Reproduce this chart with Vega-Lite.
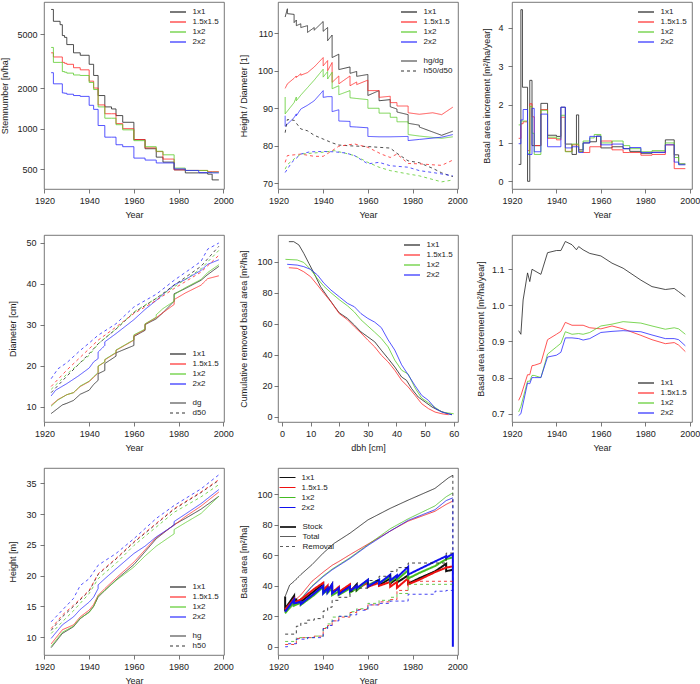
{
"$schema":"https://vega.github.io/schema/vega-lite/v6.json",
"padding":{"left":0,"top":1,"right":0,"bottom":0},
"background":"white",
"config":{
 "font":"Liberation Sans",
 "view":{"stroke":"#555","strokeWidth":0.8},
 "axis":{"grid":false,"domain":false,"tickSize":4,"tickColor":"#555","tickWidth":0.8,"labelFontSize":9,"titleFontSize":9,"titleFontWeight":"normal","labelColor":"#222","titleColor":"#222","labelOverlap":false,"labelFlush":false},
 "axisX":{"labelPadding":3,"titlePadding":5},
 "legend":{"labelFontSize":8,"labelColor":"#222","symbolType":"M-2,0H2","symbolSize":64,"symbolStrokeWidth":1.2,"rowPadding":1,"padding":2,"offset":3,"labelOffset":9.5,
   "layout":{"top-right":{"direction":"vertical","anchor":"start","margin":6},"bottom-right":{"direction":"vertical","anchor":"start","margin":6},"top-left":{"direction":"vertical","anchor":"start","margin":6}}}
},
"columns":3,
"spacing":{"row":46,"column":54},
"bounds":"flush",
"resolve":{"scale":{"color":"independent","strokeDash":"independent","strokeWidth":"independent","x":"independent","y":"independent"},"legend":{"color":"independent","strokeDash":"independent","strokeWidth":"independent"}},
"datasets":{
"p1":[
{"s":"1x1","x":1923,"y":7650},{"s":"1x1","x":1924,"y":6250},{"s":"1x1","x":1927,"y":5900},{"s":"1x1","x":1928,"y":4900},{"s":"1x1","x":1929,"y":4750},{"s":"1x1","x":1930,"y":4200},{"s":"1x1","x":1933,"y":3650},{"s":"1x1","x":1936,"y":3500},{"s":"1x1","x":1940,"y":3000},{"s":"1x1","x":1942,"y":2480},{"s":"1x1","x":1944,"y":1760},{"s":"1x1","x":1947,"y":1450},{"s":"1x1","x":1950,"y":1400},{"s":"1x1","x":1952,"y":1250},{"s":"1x1","x":1955,"y":1115},{"s":"1x1","x":1960,"y":830},{"s":"1x1","x":1965,"y":710},{"s":"1x1","x":1970,"y":615},{"s":"1x1","x":1973,"y":565},{"s":"1x1","x":1978,"y":495},{"s":"1x1","x":1983,"y":470},{"s":"1x1","x":1989,"y":470},{"s":"1x1","x":1993,"y":460},{"s":"1x1","x":1995,"y":417},{"s":"1x1","x":1998,"y":417},
{"s":"1.5x1.5","x":1923,"y":3650},{"s":"1.5x1.5","x":1924,"y":3400},{"s":"1.5x1.5","x":1927,"y":3400},{"s":"1.5x1.5","x":1928,"y":3100},{"s":"1.5x1.5","x":1929,"y":3050},{"s":"1.5x1.5","x":1930,"y":3000},{"s":"1.5x1.5","x":1933,"y":2830},{"s":"1.5x1.5","x":1936,"y":2730},{"s":"1.5x1.5","x":1940,"y":2250},{"s":"1.5x1.5","x":1942,"y":2000},{"s":"1.5x1.5","x":1944,"y":1500},{"s":"1.5x1.5","x":1947,"y":1290},{"s":"1.5x1.5","x":1950,"y":1290},{"s":"1.5x1.5","x":1952,"y":1090},{"s":"1.5x1.5","x":1955,"y":1000},{"s":"1.5x1.5","x":1960,"y":830},{"s":"1.5x1.5","x":1965,"y":720},{"s":"1.5x1.5","x":1970,"y":676},{"s":"1.5x1.5","x":1973,"y":595},{"s":"1.5x1.5","x":1978,"y":495},{"s":"1.5x1.5","x":1983,"y":490},{"s":"1.5x1.5","x":1989,"y":490},{"s":"1.5x1.5","x":1993,"y":480},{"s":"1.5x1.5","x":1995,"y":480},{"s":"1.5x1.5","x":1998,"y":480},
{"s":"1x2","x":1923,"y":4000},{"s":"1x2","x":1924,"y":3100},{"s":"1x2","x":1927,"y":3100},{"s":"1x2","x":1928,"y":2650},{"s":"1x2","x":1929,"y":2620},{"s":"1x2","x":1930,"y":2580},{"s":"1x2","x":1933,"y":2500},{"s":"1x2","x":1936,"y":2480},{"s":"1x2","x":1940,"y":2200},{"s":"1x2","x":1942,"y":1950},{"s":"1x2","x":1944,"y":1450},{"s":"1x2","x":1947,"y":1195},{"s":"1x2","x":1950,"y":1195},{"s":"1x2","x":1952,"y":1070},{"s":"1x2","x":1955,"y":980},{"s":"1x2","x":1960,"y":815},{"s":"1x2","x":1965,"y":735},{"s":"1x2","x":1970,"y":680},{"s":"1x2","x":1973,"y":640},{"s":"1x2","x":1978,"y":510},{"s":"1x2","x":1983,"y":490},{"s":"1x2","x":1989,"y":490},{"s":"1x2","x":1993,"y":475},{"s":"1x2","x":1995,"y":475},{"s":"1x2","x":1998,"y":475},
{"s":"2x2","x":1923,"y":2600},{"s":"2x2","x":1924,"y":2150},{"s":"2x2","x":1927,"y":2150},{"s":"2x2","x":1928,"y":1840},{"s":"2x2","x":1929,"y":1830},{"s":"2x2","x":1930,"y":1800},{"s":"2x2","x":1933,"y":1760},{"s":"2x2","x":1936,"y":1735},{"s":"2x2","x":1940,"y":1490},{"s":"2x2","x":1942,"y":1390},{"s":"2x2","x":1944,"y":1055},{"s":"2x2","x":1947,"y":865},{"s":"2x2","x":1950,"y":865},{"s":"2x2","x":1952,"y":760},{"s":"2x2","x":1955,"y":735},{"s":"2x2","x":1960,"y":605},{"s":"2x2","x":1965,"y":585},{"s":"2x2","x":1970,"y":557},{"s":"2x2","x":1973,"y":557},{"s":"2x2","x":1978,"y":503},{"s":"2x2","x":1983,"y":490},{"s":"2x2","x":1989,"y":472},{"s":"2x2","x":1993,"y":472},{"s":"2x2","x":1995,"y":470},{"s":"2x2","x":1998,"y":470}
],
"p2":[
{"s":"1x1","t":"hg/dg","x":1923,"y":114.3},{"s":"1x1","t":"hg/dg","x":1924,"y":116.5},{"s":"1x1","t":"hg/dg","x":1924,"y":115.2},{"s":"1x1","t":"hg/dg","x":1927,"y":115.0},{"s":"1x1","t":"hg/dg","x":1927,"y":112.8},{"s":"1x1","t":"hg/dg","x":1928,"y":113.5},{"s":"1x1","t":"hg/dg","x":1928,"y":112.0},{"s":"1x1","t":"hg/dg","x":1930,"y":112.5},{"s":"1x1","t":"hg/dg","x":1930,"y":111.5},{"s":"1x1","t":"hg/dg","x":1933,"y":112.0},{"s":"1x1","t":"hg/dg","x":1933,"y":110.2},{"s":"1x1","t":"hg/dg","x":1936,"y":111.5},{"s":"1x1","t":"hg/dg","x":1936,"y":110.8},{"s":"1x1","t":"hg/dg","x":1940,"y":113.1},{"s":"1x1","t":"hg/dg","x":1940,"y":110.5},{"s":"1x1","t":"hg/dg","x":1942,"y":111.5},{"s":"1x1","t":"hg/dg","x":1942,"y":108.0},{"s":"1x1","t":"hg/dg","x":1944,"y":109.5},{"s":"1x1","t":"hg/dg","x":1944,"y":103.5},{"s":"1x1","t":"hg/dg","x":1947,"y":104.4},{"s":"1x1","t":"hg/dg","x":1947,"y":100.3},{"s":"1x1","t":"hg/dg","x":1952,"y":101.0},{"s":"1x1","t":"hg/dg","x":1952,"y":99.3},{"s":"1x1","t":"hg/dg","x":1955,"y":99.8},{"s":"1x1","t":"hg/dg","x":1955,"y":98.5},{"s":"1x1","t":"hg/dg","x":1960,"y":99.0},{"s":"1x1","t":"hg/dg","x":1960,"y":93.4},{"s":"1x1","t":"hg/dg","x":1965,"y":94.7},{"s":"1x1","t":"hg/dg","x":1965,"y":92.0},{"s":"1x1","t":"hg/dg","x":1970,"y":92.3},{"s":"1x1","t":"hg/dg","x":1970,"y":90.4},{"s":"1x1","t":"hg/dg","x":1973,"y":89.8},{"s":"1x1","t":"hg/dg","x":1973,"y":89.0},{"s":"1x1","t":"hg/dg","x":1978,"y":88.3},{"s":"1x1","t":"hg/dg","x":1978,"y":86.0},{"s":"1x1","t":"hg/dg","x":1983,"y":85.5},{"s":"1x1","t":"hg/dg","x":1983,"y":85.0},{"s":"1x1","t":"hg/dg","x":1993,"y":82.8},{"s":"1x1","t":"hg/dg","x":1998,"y":83.9},
{"s":"1.5x1.5","t":"hg/dg","x":1923,"y":95.3},{"s":"1.5x1.5","t":"hg/dg","x":1924,"y":96.5},{"s":"1.5x1.5","t":"hg/dg","x":1927,"y":98.0},{"s":"1.5x1.5","t":"hg/dg","x":1928,"y":98.6},{"s":"1.5x1.5","t":"hg/dg","x":1928,"y":98.2},{"s":"1.5x1.5","t":"hg/dg","x":1930,"y":99.2},{"s":"1.5x1.5","t":"hg/dg","x":1930,"y":98.8},{"s":"1.5x1.5","t":"hg/dg","x":1933,"y":99.5},{"s":"1.5x1.5","t":"hg/dg","x":1936,"y":101.0},{"s":"1.5x1.5","t":"hg/dg","x":1940,"y":103.5},{"s":"1.5x1.5","t":"hg/dg","x":1940,"y":101.3},{"s":"1.5x1.5","t":"hg/dg","x":1942,"y":102.7},{"s":"1.5x1.5","t":"hg/dg","x":1942,"y":100.0},{"s":"1.5x1.5","t":"hg/dg","x":1944,"y":102.2},{"s":"1.5x1.5","t":"hg/dg","x":1944,"y":96.9},{"s":"1.5x1.5","t":"hg/dg","x":1947,"y":98.6},{"s":"1.5x1.5","t":"hg/dg","x":1947,"y":96.5},{"s":"1.5x1.5","t":"hg/dg","x":1952,"y":98.6},{"s":"1.5x1.5","t":"hg/dg","x":1952,"y":96.0},{"s":"1.5x1.5","t":"hg/dg","x":1955,"y":97.0},{"s":"1.5x1.5","t":"hg/dg","x":1955,"y":96.3},{"s":"1.5x1.5","t":"hg/dg","x":1960,"y":97.5},{"s":"1.5x1.5","t":"hg/dg","x":1960,"y":94.7},{"s":"1.5x1.5","t":"hg/dg","x":1965,"y":94.7},{"s":"1.5x1.5","t":"hg/dg","x":1965,"y":92.9},{"s":"1.5x1.5","t":"hg/dg","x":1970,"y":93.2},{"s":"1.5x1.5","t":"hg/dg","x":1970,"y":91.5},{"s":"1.5x1.5","t":"hg/dg","x":1973,"y":91.5},{"s":"1.5x1.5","t":"hg/dg","x":1973,"y":90.6},{"s":"1.5x1.5","t":"hg/dg","x":1978,"y":90.6},{"s":"1.5x1.5","t":"hg/dg","x":1978,"y":88.8},{"s":"1.5x1.5","t":"hg/dg","x":1983,"y":88.4},{"s":"1.5x1.5","t":"hg/dg","x":1989,"y":88.8},{"s":"1.5x1.5","t":"hg/dg","x":1993,"y":88.3},{"s":"1.5x1.5","t":"hg/dg","x":1998,"y":90.3},
{"s":"1x2","t":"hg/dg","x":1923,"y":93.0},{"s":"1x2","t":"hg/dg","x":1923,"y":88.5},{"s":"1x2","t":"hg/dg","x":1927,"y":91.5},{"s":"1x2","t":"hg/dg","x":1928,"y":93.0},{"s":"1x2","t":"hg/dg","x":1928,"y":92.0},{"s":"1x2","t":"hg/dg","x":1930,"y":93.5},{"s":"1x2","t":"hg/dg","x":1933,"y":95.5},{"s":"1x2","t":"hg/dg","x":1936,"y":97.5},{"s":"1x2","t":"hg/dg","x":1940,"y":100.4},{"s":"1x2","t":"hg/dg","x":1940,"y":98.3},{"s":"1x2","t":"hg/dg","x":1942,"y":99.8},{"s":"1x2","t":"hg/dg","x":1942,"y":97.8},{"s":"1x2","t":"hg/dg","x":1944,"y":99.6},{"s":"1x2","t":"hg/dg","x":1944,"y":95.2},{"s":"1x2","t":"hg/dg","x":1947,"y":96.0},{"s":"1x2","t":"hg/dg","x":1947,"y":93.6},{"s":"1x2","t":"hg/dg","x":1952,"y":94.7},{"s":"1x2","t":"hg/dg","x":1952,"y":92.8},{"s":"1x2","t":"hg/dg","x":1955,"y":92.6},{"s":"1x2","t":"hg/dg","x":1960,"y":92.3},{"s":"1x2","t":"hg/dg","x":1960,"y":90.0},{"s":"1x2","t":"hg/dg","x":1965,"y":90.0},{"s":"1x2","t":"hg/dg","x":1965,"y":88.7},{"s":"1x2","t":"hg/dg","x":1970,"y":88.7},{"s":"1x2","t":"hg/dg","x":1970,"y":87.6},{"s":"1x2","t":"hg/dg","x":1973,"y":87.6},{"s":"1x2","t":"hg/dg","x":1973,"y":86.4},{"s":"1x2","t":"hg/dg","x":1978,"y":86.4},{"s":"1x2","t":"hg/dg","x":1978,"y":83.0},{"s":"1x2","t":"hg/dg","x":1983,"y":82.6},{"s":"1x2","t":"hg/dg","x":1993,"y":82.0},{"s":"1x2","t":"hg/dg","x":1998,"y":82.4},
{"s":"2x2","t":"hg/dg","x":1923,"y":88.0},{"s":"2x2","t":"hg/dg","x":1923,"y":85.2},{"s":"2x2","t":"hg/dg","x":1927,"y":87.5},{"s":"2x2","t":"hg/dg","x":1928,"y":88.5},{"s":"2x2","t":"hg/dg","x":1928,"y":88.0},{"s":"2x2","t":"hg/dg","x":1930,"y":89.8},{"s":"2x2","t":"hg/dg","x":1933,"y":90.8},{"s":"2x2","t":"hg/dg","x":1936,"y":92.0},{"s":"2x2","t":"hg/dg","x":1940,"y":94.7},{"s":"2x2","t":"hg/dg","x":1940,"y":92.9},{"s":"2x2","t":"hg/dg","x":1942,"y":93.1},{"s":"2x2","t":"hg/dg","x":1944,"y":93.1},{"s":"2x2","t":"hg/dg","x":1944,"y":89.1},{"s":"2x2","t":"hg/dg","x":1947,"y":89.6},{"s":"2x2","t":"hg/dg","x":1947,"y":86.6},{"s":"2x2","t":"hg/dg","x":1952,"y":86.5},{"s":"2x2","t":"hg/dg","x":1952,"y":85.1},{"s":"2x2","t":"hg/dg","x":1955,"y":85.0},{"s":"2x2","t":"hg/dg","x":1960,"y":84.8},{"s":"2x2","t":"hg/dg","x":1960,"y":82.5},{"s":"2x2","t":"hg/dg","x":1965,"y":82.4},{"s":"2x2","t":"hg/dg","x":1970,"y":82.4},{"s":"2x2","t":"hg/dg","x":1978,"y":82.5},{"s":"2x2","t":"hg/dg","x":1978,"y":81.4},{"s":"2x2","t":"hg/dg","x":1983,"y":81.7},{"s":"2x2","t":"hg/dg","x":1993,"y":82.3},{"s":"2x2","t":"hg/dg","x":1998,"y":83.0},
{"s":"1x1","t":"h50/d50","x":1923,"y":83.5},{"s":"1x1","t":"h50/d50","x":1924,"y":87.0},{"s":"1x1","t":"h50/d50","x":1927,"y":86.8},{"s":"1x1","t":"h50/d50","x":1930,"y":84.5},{"s":"1x1","t":"h50/d50","x":1933,"y":84.0},{"s":"1x1","t":"h50/d50","x":1936,"y":82.8},{"s":"1x1","t":"h50/d50","x":1940,"y":81.8},{"s":"1x1","t":"h50/d50","x":1944,"y":80.8},{"s":"1x1","t":"h50/d50","x":1947,"y":80.2},{"s":"1x1","t":"h50/d50","x":1952,"y":80.0},{"s":"1x1","t":"h50/d50","x":1960,"y":79.8},{"s":"1x1","t":"h50/d50","x":1965,"y":79.6},{"s":"1x1","t":"h50/d50","x":1970,"y":79.4},{"s":"1x1","t":"h50/d50","x":1973,"y":78.0},{"s":"1x1","t":"h50/d50","x":1978,"y":76.0},{"s":"1x1","t":"h50/d50","x":1983,"y":75.5},{"s":"1x1","t":"h50/d50","x":1989,"y":74.0},{"s":"1x1","t":"h50/d50","x":1993,"y":72.8},{"s":"1x1","t":"h50/d50","x":1998,"y":71.8},
{"s":"1.5x1.5","t":"h50/d50","x":1923,"y":75.6},{"s":"1.5x1.5","t":"h50/d50","x":1924,"y":77.4},{"s":"1.5x1.5","t":"h50/d50","x":1927,"y":77.6},{"s":"1.5x1.5","t":"h50/d50","x":1930,"y":77.8},{"s":"1.5x1.5","t":"h50/d50","x":1936,"y":77.2},{"s":"1.5x1.5","t":"h50/d50","x":1940,"y":77.2},{"s":"1.5x1.5","t":"h50/d50","x":1944,"y":78.7},{"s":"1.5x1.5","t":"h50/d50","x":1947,"y":79.9},{"s":"1.5x1.5","t":"h50/d50","x":1954,"y":80.5},{"s":"1.5x1.5","t":"h50/d50","x":1960,"y":79.6},{"s":"1.5x1.5","t":"h50/d50","x":1966,"y":77.8},{"s":"1.5x1.5","t":"h50/d50","x":1970,"y":76.9},{"s":"1.5x1.5","t":"h50/d50","x":1973,"y":77.8},{"s":"1.5x1.5","t":"h50/d50","x":1978,"y":75.3},{"s":"1.5x1.5","t":"h50/d50","x":1983,"y":75.2},{"s":"1.5x1.5","t":"h50/d50","x":1990,"y":74.9},{"s":"1.5x1.5","t":"h50/d50","x":1993,"y":74.8},{"s":"1.5x1.5","t":"h50/d50","x":1998,"y":76.2},
{"s":"1x2","t":"h50/d50","x":1923,"y":73.8},{"s":"1x2","t":"h50/d50","x":1924,"y":75.0},{"s":"1x2","t":"h50/d50","x":1927,"y":76.5},{"s":"1x2","t":"h50/d50","x":1930,"y":77.8},{"s":"1x2","t":"h50/d50","x":1936,"y":78.1},{"s":"1x2","t":"h50/d50","x":1940,"y":78.3},{"s":"1x2","t":"h50/d50","x":1945,"y":78.7},{"s":"1x2","t":"h50/d50","x":1950,"y":78.0},{"s":"1x2","t":"h50/d50","x":1954,"y":77.4},{"s":"1x2","t":"h50/d50","x":1960,"y":75.6},{"s":"1x2","t":"h50/d50","x":1965,"y":74.3},{"s":"1x2","t":"h50/d50","x":1970,"y":73.4},{"s":"1x2","t":"h50/d50","x":1978,"y":72.5},{"s":"1x2","t":"h50/d50","x":1983,"y":72.0},{"s":"1x2","t":"h50/d50","x":1993,"y":70.4},{"s":"1x2","t":"h50/d50","x":1998,"y":70.9},
{"s":"2x2","t":"h50/d50","x":1923,"y":72.9},{"s":"2x2","t":"h50/d50","x":1926,"y":75.6},{"s":"2x2","t":"h50/d50","x":1930,"y":77.8},{"s":"2x2","t":"h50/d50","x":1934,"y":78.4},{"s":"2x2","t":"h50/d50","x":1940,"y":78.5},{"s":"2x2","t":"h50/d50","x":1945,"y":78.4},{"s":"2x2","t":"h50/d50","x":1950,"y":78.1},{"s":"2x2","t":"h50/d50","x":1954,"y":77.4},{"s":"2x2","t":"h50/d50","x":1960,"y":75.2},{"s":"2x2","t":"h50/d50","x":1965,"y":75.6},{"s":"2x2","t":"h50/d50","x":1970,"y":74.7},{"s":"2x2","t":"h50/d50","x":1978,"y":74.3},{"s":"2x2","t":"h50/d50","x":1983,"y":73.4},{"s":"2x2","t":"h50/d50","x":1990,"y":72.8},{"s":"2x2","t":"h50/d50","x":1998,"y":72.0}
],
"p3":[
{"s":"1x1","x":1923,"y":0.44},{"s":"1x1","x":1924,"y":4.47},{"s":"1x1","x":1924.7,"y":2.45},{"s":"1x1","x":1927,"y":0.0},{"s":"1x1","x":1928,"y":2.63},{"s":"1x1","x":1929,"y":0.93},{"s":"1x1","x":1933,"y":2.03},{"s":"1x1","x":1936,"y":1.2},{"s":"1x1","x":1940,"y":1.17},{"s":"1x1","x":1942,"y":1.93},{"s":"1x1","x":1944,"y":0.97},{"s":"1x1","x":1947,"y":0.7},{"s":"1x1","x":1949,"y":1.73},{"s":"1x1","x":1950,"y":0.82},{"s":"1x1","x":1952,"y":1.0},{"s":"1x1","x":1955,"y":1.03},{"s":"1x1","x":1958,"y":1.18},{"s":"1x1","x":1960,"y":0.87},{"s":"1x1","x":1965,"y":0.9},{"s":"1x1","x":1970,"y":0.85},{"s":"1x1","x":1973,"y":0.78},{"s":"1x1","x":1978,"y":0.73},{"s":"1x1","x":1983,"y":0.76},{"s":"1x1","x":1989,"y":1.08},{"s":"1x1","x":1993,"y":0.69},{"s":"1x1","x":1995,"y":0.45},{"s":"1x1","x":1998,"y":0.45},
{"s":"1.5x1.5","x":1923,"y":1.12},{"s":"1.5x1.5","x":1924,"y":1.5},{"s":"1.5x1.5","x":1925,"y":1.55},{"s":"1.5x1.5","x":1927,"y":0.8},{"s":"1.5x1.5","x":1928,"y":2.02},{"s":"1.5x1.5","x":1929,"y":1.68},{"s":"1.5x1.5","x":1930,"y":0.93},{"s":"1.5x1.5","x":1933,"y":1.87},{"s":"1.5x1.5","x":1936,"y":1.12},{"s":"1.5x1.5","x":1940,"y":1.08},{"s":"1.5x1.5","x":1942,"y":1.67},{"s":"1.5x1.5","x":1944,"y":0.78},{"s":"1.5x1.5","x":1947,"y":0.95},{"s":"1.5x1.5","x":1950,"y":0.78},{"s":"1.5x1.5","x":1952,"y":0.75},{"s":"1.5x1.5","x":1955,"y":0.9},{"s":"1.5x1.5","x":1960,"y":1.05},{"s":"1.5x1.5","x":1965,"y":0.82},{"s":"1.5x1.5","x":1970,"y":0.75},{"s":"1.5x1.5","x":1973,"y":0.75},{"s":"1.5x1.5","x":1978,"y":0.68},{"s":"1.5x1.5","x":1983,"y":0.7},{"s":"1.5x1.5","x":1989,"y":0.95},{"s":"1.5x1.5","x":1993,"y":0.33},{"s":"1.5x1.5","x":1998,"y":0.33},
{"s":"1x2","x":1923,"y":1.47},{"s":"1x2","x":1924,"y":1.57},{"s":"1x2","x":1927,"y":0.72},{"s":"1x2","x":1928,"y":1.95},{"s":"1x2","x":1929,"y":1.25},{"s":"1x2","x":1930,"y":0.7},{"s":"1x2","x":1933,"y":1.85},{"s":"1x2","x":1936,"y":1.15},{"s":"1x2","x":1940,"y":1.12},{"s":"1x2","x":1942,"y":1.72},{"s":"1x2","x":1944,"y":0.77},{"s":"1x2","x":1947,"y":0.97},{"s":"1x2","x":1950,"y":0.78},{"s":"1x2","x":1952,"y":1.05},{"s":"1x2","x":1955,"y":1.13},{"s":"1x2","x":1957,"y":1.22},{"s":"1x2","x":1960,"y":1.0},{"s":"1x2","x":1965,"y":1.05},{"s":"1x2","x":1970,"y":0.93},{"s":"1x2","x":1973,"y":0.85},{"s":"1x2","x":1978,"y":0.77},{"s":"1x2","x":1983,"y":0.8},{"s":"1x2","x":1989,"y":1.0},{"s":"1x2","x":1993,"y":0.62},{"s":"1x2","x":1995,"y":0.45},{"s":"1x2","x":1998,"y":0.45},
{"s":"2x2","x":1923,"y":0.98},{"s":"2x2","x":1924,"y":1.6},{"s":"2x2","x":1925,"y":1.87},{"s":"2x2","x":1927,"y":0.7},{"s":"2x2","x":1929,"y":1.9},{"s":"2x2","x":1930,"y":0.77},{"s":"2x2","x":1933,"y":1.75},{"s":"2x2","x":1936,"y":0.9},{"s":"2x2","x":1942,"y":1.93},{"s":"2x2","x":1944,"y":0.87},{"s":"2x2","x":1947,"y":0.9},{"s":"2x2","x":1950,"y":0.75},{"s":"2x2","x":1952,"y":1.0},{"s":"2x2","x":1955,"y":1.17},{"s":"2x2","x":1960,"y":0.95},{"s":"2x2","x":1965,"y":0.97},{"s":"2x2","x":1970,"y":0.85},{"s":"2x2","x":1973,"y":0.88},{"s":"2x2","x":1978,"y":0.75},{"s":"2x2","x":1989,"y":0.95},{"s":"2x2","x":1993,"y":0.5},{"s":"2x2","x":1995,"y":0.43},{"s":"2x2","x":1998,"y":0.43}
],
"p4":[
{"s":"1x1","t":"dg","x":1923,"y":8.4},{"s":"1x1","t":"dg","x":1928,"y":10.5},{"s":"1x1","t":"dg","x":1930,"y":10.9},{"s":"1x1","t":"dg","x":1933,"y":11.6},{"s":"1x1","t":"dg","x":1936,"y":13.1},{"s":"1x1","t":"dg","x":1940,"y":14.1},{"s":"1x1","t":"dg","x":1942,"y":15.5},{"s":"1x1","t":"dg","x":1944,"y":16.5},{"s":"1x1","t":"dg","x":1944,"y":18.1},{"s":"1x1","t":"dg","x":1947,"y":18.9},{"s":"1x1","t":"dg","x":1947,"y":20.6},{"s":"1x1","t":"dg","x":1952,"y":22.4},{"s":"1x1","t":"dg","x":1952,"y":23.2},{"s":"1x1","t":"dg","x":1960,"y":25.0},{"s":"1x1","t":"dg","x":1960,"y":27.2},{"s":"1x1","t":"dg","x":1965,"y":28.7},{"s":"1x1","t":"dg","x":1965,"y":30.1},{"s":"1x1","t":"dg","x":1970,"y":31.5},{"s":"1x1","t":"dg","x":1973,"y":33.0},{"s":"1x1","t":"dg","x":1978,"y":35.8},{"s":"1x1","t":"dg","x":1978,"y":37.6},{"s":"1x1","t":"dg","x":1983,"y":38.9},{"s":"1x1","t":"dg","x":1990,"y":40.9},{"s":"1x1","t":"dg","x":1993,"y":42.3},{"s":"1x1","t":"dg","x":1998,"y":44.3},
{"s":"1.5x1.5","t":"dg","x":1923,"y":10.4},{"s":"1.5x1.5","t":"dg","x":1926,"y":11.8},{"s":"1.5x1.5","t":"dg","x":1930,"y":13.0},{"s":"1.5x1.5","t":"dg","x":1933,"y":13.5},{"s":"1.5x1.5","t":"dg","x":1936,"y":15.0},{"s":"1.5x1.5","t":"dg","x":1940,"y":16.2},{"s":"1.5x1.5","t":"dg","x":1942,"y":17.2},{"s":"1.5x1.5","t":"dg","x":1944,"y":18.3},{"s":"1.5x1.5","t":"dg","x":1944,"y":19.9},{"s":"1.5x1.5","t":"dg","x":1947,"y":21.0},{"s":"1.5x1.5","t":"dg","x":1947,"y":21.5},{"s":"1.5x1.5","t":"dg","x":1952,"y":23.2},{"s":"1.5x1.5","t":"dg","x":1952,"y":23.8},{"s":"1.5x1.5","t":"dg","x":1960,"y":26.3},{"s":"1.5x1.5","t":"dg","x":1960,"y":27.4},{"s":"1.5x1.5","t":"dg","x":1965,"y":28.9},{"s":"1.5x1.5","t":"dg","x":1965,"y":30.2},{"s":"1.5x1.5","t":"dg","x":1970,"y":31.8},{"s":"1.5x1.5","t":"dg","x":1973,"y":33.0},{"s":"1.5x1.5","t":"dg","x":1978,"y":35.0},{"s":"1.5x1.5","t":"dg","x":1978,"y":36.2},{"s":"1.5x1.5","t":"dg","x":1983,"y":37.8},{"s":"1.5x1.5","t":"dg","x":1990,"y":39.7},{"s":"1.5x1.5","t":"dg","x":1993,"y":41.3},{"s":"1.5x1.5","t":"dg","x":1998,"y":42.0},
{"s":"1x2","t":"dg","x":1923,"y":10.2},{"s":"1x2","t":"dg","x":1926,"y":11.7},{"s":"1x2","t":"dg","x":1930,"y":13.0},{"s":"1x2","t":"dg","x":1933,"y":13.5},{"s":"1x2","t":"dg","x":1936,"y":15.1},{"s":"1x2","t":"dg","x":1940,"y":16.3},{"s":"1x2","t":"dg","x":1942,"y":17.4},{"s":"1x2","t":"dg","x":1944,"y":18.4},{"s":"1x2","t":"dg","x":1944,"y":20.0},{"s":"1x2","t":"dg","x":1947,"y":21.0},{"s":"1x2","t":"dg","x":1947,"y":21.6},{"s":"1x2","t":"dg","x":1952,"y":23.3},{"s":"1x2","t":"dg","x":1952,"y":23.9},{"s":"1x2","t":"dg","x":1960,"y":26.4},{"s":"1x2","t":"dg","x":1960,"y":27.6},{"s":"1x2","t":"dg","x":1965,"y":29.0},{"s":"1x2","t":"dg","x":1965,"y":30.3},{"s":"1x2","t":"dg","x":1970,"y":31.9},{"s":"1x2","t":"dg","x":1970,"y":32.5},{"s":"1x2","t":"dg","x":1973,"y":34.0},{"s":"1x2","t":"dg","x":1978,"y":35.8},{"s":"1x2","t":"dg","x":1978,"y":37.4},{"s":"1x2","t":"dg","x":1983,"y":39.1},{"s":"1x2","t":"dg","x":1990,"y":41.1},{"s":"1x2","t":"dg","x":1993,"y":42.8},{"s":"1x2","t":"dg","x":1998,"y":44.7},
{"s":"2x2","t":"dg","x":1923,"y":12.7},{"s":"2x2","t":"dg","x":1925,"y":14.1},{"s":"2x2","t":"dg","x":1930,"y":15.7},{"s":"2x2","t":"dg","x":1935,"y":17.5},{"s":"2x2","t":"dg","x":1940,"y":19.5},{"s":"2x2","t":"dg","x":1942,"y":21.0},{"s":"2x2","t":"dg","x":1944,"y":21.8},{"s":"2x2","t":"dg","x":1944,"y":23.4},{"s":"2x2","t":"dg","x":1947,"y":25.0},{"s":"2x2","t":"dg","x":1947,"y":25.9},{"s":"2x2","t":"dg","x":1952,"y":27.9},{"s":"2x2","t":"dg","x":1960,"y":31.3},{"s":"2x2","t":"dg","x":1965,"y":33.8},{"s":"2x2","t":"dg","x":1970,"y":36.0},{"s":"2x2","t":"dg","x":1978,"y":39.8},{"s":"2x2","t":"dg","x":1983,"y":41.1},{"s":"2x2","t":"dg","x":1990,"y":43.3},{"s":"2x2","t":"dg","x":1993,"y":44.8},{"s":"2x2","t":"dg","x":1998,"y":45.9},
{"s":"1x1","t":"d50","x":1923,"y":13.5},{"s":"1x1","t":"d50","x":1930,"y":17.5},{"s":"1x1","t":"d50","x":1940,"y":23.0},{"s":"1x1","t":"d50","x":1944,"y":25.4},{"s":"1x1","t":"d50","x":1952,"y":29.0},{"s":"1x1","t":"d50","x":1960,"y":33.0},{"s":"1x1","t":"d50","x":1970,"y":36.5},{"s":"1x1","t":"d50","x":1978,"y":39.7},{"s":"1x1","t":"d50","x":1990,"y":44.3},{"s":"1x1","t":"d50","x":1998,"y":49.2},
{"s":"1.5x1.5","t":"d50","x":1923,"y":15.0},{"s":"1.5x1.5","t":"d50","x":1930,"y":19.0},{"s":"1.5x1.5","t":"d50","x":1940,"y":24.2},{"s":"1.5x1.5","t":"d50","x":1944,"y":26.3},{"s":"1.5x1.5","t":"d50","x":1952,"y":29.5},{"s":"1.5x1.5","t":"d50","x":1960,"y":32.8},{"s":"1.5x1.5","t":"d50","x":1970,"y":36.0},{"s":"1.5x1.5","t":"d50","x":1978,"y":38.9},{"s":"1.5x1.5","t":"d50","x":1990,"y":42.9},{"s":"1.5x1.5","t":"d50","x":1998,"y":47.0},
{"s":"1x2","t":"d50","x":1923,"y":14.3},{"s":"1x2","t":"d50","x":1930,"y":18.0},{"s":"1x2","t":"d50","x":1940,"y":22.6},{"s":"1x2","t":"d50","x":1944,"y":25.4},{"s":"1x2","t":"d50","x":1952,"y":29.0},{"s":"1x2","t":"d50","x":1960,"y":33.2},{"s":"1x2","t":"d50","x":1970,"y":36.5},{"s":"1x2","t":"d50","x":1978,"y":39.3},{"s":"1x2","t":"d50","x":1990,"y":43.7},{"s":"1x2","t":"d50","x":1998,"y":48.2},
{"s":"2x2","t":"d50","x":1923,"y":16.9},{"s":"2x2","t":"d50","x":1926,"y":19.3},{"s":"2x2","t":"d50","x":1930,"y":20.8},{"s":"2x2","t":"d50","x":1936,"y":23.8},{"s":"2x2","t":"d50","x":1940,"y":25.6},{"s":"2x2","t":"d50","x":1944,"y":27.5},{"s":"2x2","t":"d50","x":1952,"y":30.3},{"s":"2x2","t":"d50","x":1960,"y":34.4},{"s":"2x2","t":"d50","x":1970,"y":37.5},{"s":"2x2","t":"d50","x":1978,"y":40.9},{"s":"2x2","t":"d50","x":1990,"y":45.5},{"s":"2x2","t":"d50","x":1993,"y":48.5},{"s":"2x2","t":"d50","x":1998,"y":50.0}
],
"p5":[
{"s":"1x1","x":2.4,"y":112.9},{"s":"1x1","x":4.1,"y":112.9},{"s":"1x1","x":5.9,"y":110.8},{"s":"1x1","x":7.6,"y":105.4},{"s":"1x1","x":9.4,"y":98.9},{"s":"1x1","x":11.2,"y":92.5},{"s":"1x1","x":13.5,"y":83.8},{"s":"1x1","x":15.9,"y":77.4},{"s":"1x1","x":18.2,"y":71.5},{"s":"1x1","x":20,"y":67.0},{"s":"1x1","x":22.9,"y":63.4},{"s":"1x1","x":25.3,"y":59.1},{"s":"1x1","x":27.6,"y":54.7},{"s":"1x1","x":30,"y":51.5},{"s":"1x1","x":32.4,"y":48.3},{"s":"1x1","x":34.7,"y":42.9},{"s":"1x1","x":37.1,"y":37.5},{"s":"1x1","x":39.4,"y":32.1},{"s":"1x1","x":41.8,"y":25.6},{"s":"1x1","x":43.5,"y":23.5},{"s":"1x1","x":45.3,"y":18.1},{"s":"1x1","x":47.6,"y":12.7},{"s":"1x1","x":50,"y":9.5},{"s":"1x1","x":52.4,"y":6.3},{"s":"1x1","x":54.7,"y":4.1},{"s":"1x1","x":57.1,"y":2.4},{"s":"1x1","x":59.4,"y":1.3},
{"s":"1.5x1.5","x":2.4,"y":96.1},{"s":"1.5x1.5","x":5.3,"y":95.7},{"s":"1.5x1.5","x":7.6,"y":93.5},{"s":"1.5x1.5","x":10,"y":90.3},{"s":"1.5x1.5","x":12.4,"y":84.9},{"s":"1.5x1.5","x":14.7,"y":79.5},{"s":"1.5x1.5","x":17.1,"y":74.1},{"s":"1.5x1.5","x":20,"y":66.5},{"s":"1.5x1.5","x":22.9,"y":62.5},{"s":"1.5x1.5","x":25.3,"y":58.0},{"s":"1.5x1.5","x":27.6,"y":54.0},{"s":"1.5x1.5","x":30,"y":49.4},{"s":"1.5x1.5","x":32.4,"y":45.0},{"s":"1.5x1.5","x":34.7,"y":39.7},{"s":"1.5x1.5","x":37.1,"y":35.3},{"s":"1.5x1.5","x":39.4,"y":30.0},{"s":"1.5x1.5","x":41.8,"y":23.5},{"s":"1.5x1.5","x":44.1,"y":19.2},{"s":"1.5x1.5","x":46.5,"y":13.8},{"s":"1.5x1.5","x":48.8,"y":8.4},{"s":"1.5x1.5","x":51.2,"y":5.2},{"s":"1.5x1.5","x":53.5,"y":3.0},{"s":"1.5x1.5","x":55.9,"y":1.9},{"s":"1.5x1.5","x":58.2,"y":1.3},
{"s":"1x2","x":1.2,"y":101.5},{"s":"1x2","x":5.3,"y":101.1},{"s":"1x2","x":7.6,"y":99.5},{"s":"1x2","x":10,"y":95.0},{"s":"1x2","x":12.4,"y":89.0},{"s":"1x2","x":14.7,"y":84.0},{"s":"1x2","x":17.1,"y":80.0},{"s":"1x2","x":20,"y":75.5},{"s":"1x2","x":22.9,"y":71.5},{"s":"1x2","x":25.3,"y":67.5},{"s":"1x2","x":27.6,"y":62.5},{"s":"1x2","x":30,"y":58.5},{"s":"1x2","x":32.4,"y":54.5},{"s":"1x2","x":34.7,"y":50.5},{"s":"1x2","x":37.1,"y":45.0},{"s":"1x2","x":39.4,"y":36.5},{"s":"1x2","x":41.8,"y":30.0},{"s":"1x2","x":44.1,"y":27.5},{"s":"1x2","x":46.5,"y":18.5},{"s":"1x2","x":48.8,"y":12.0},{"s":"1x2","x":51.2,"y":9.0},{"s":"1x2","x":53.5,"y":6.0},{"s":"1x2","x":55.9,"y":3.0},{"s":"1x2","x":58.2,"y":2.4},{"s":"1x2","x":60,"y":1.9},
{"s":"2x2","x":1.8,"y":98.3},{"s":"2x2","x":5.3,"y":97.8},{"s":"2x2","x":7.6,"y":96.8},{"s":"2x2","x":10,"y":95.0},{"s":"2x2","x":12.4,"y":91.4},{"s":"2x2","x":14.7,"y":86.0},{"s":"2x2","x":17.1,"y":81.7},{"s":"2x2","x":20,"y":77.4},{"s":"2x2","x":22.9,"y":73.1},{"s":"2x2","x":25.3,"y":70.9},{"s":"2x2","x":27.6,"y":66.5},{"s":"2x2","x":30,"y":63.4},{"s":"2x2","x":32.4,"y":61.0},{"s":"2x2","x":34.7,"y":57.5},{"s":"2x2","x":37.1,"y":49.5},{"s":"2x2","x":39.4,"y":43.0},{"s":"2x2","x":41.8,"y":33.5},{"s":"2x2","x":44.1,"y":27.0},{"s":"2x2","x":46.5,"y":20.0},{"s":"2x2","x":48.8,"y":13.8},{"s":"2x2","x":51.2,"y":10.5},{"s":"2x2","x":53.5,"y":5.5},{"s":"2x2","x":55.9,"y":3.0},{"s":"2x2","x":58.2,"y":1.9},{"s":"2x2","x":59.4,"y":1.3}
],
"p6":[
{"s":"1x1","x":1923,"y":0.93},{"s":"1x1","x":1924,"y":0.92},{"s":"1x1","x":1925,"y":1.015},{"s":"1x1","x":1927,"y":1.09},{"s":"1x1","x":1928,"y":1.066},{"s":"1x1","x":1929,"y":1.1},{"s":"1x1","x":1933,"y":1.086},{"s":"1x1","x":1936,"y":1.146},{"s":"1x1","x":1940,"y":1.152},{"s":"1x1","x":1942,"y":1.152},{"s":"1x1","x":1944,"y":1.177},{"s":"1x1","x":1947,"y":1.168},{"s":"1x1","x":1949,"y":1.154},{"s":"1x1","x":1950,"y":1.163},{"s":"1x1","x":1952,"y":1.154},{"s":"1x1","x":1955,"y":1.144},{"s":"1x1","x":1960,"y":1.137},{"s":"1x1","x":1965,"y":1.117},{"s":"1x1","x":1970,"y":1.103},{"s":"1x1","x":1978,"y":1.07},{"s":"1x1","x":1983,"y":1.052},{"s":"1x1","x":1989,"y":1.044},{"s":"1x1","x":1993,"y":1.047},{"s":"1x1","x":1995,"y":1.038},{"s":"1x1","x":1998,"y":1.024},
{"s":"1.5x1.5","x":1923,"y":0.737},{"s":"1.5x1.5","x":1924,"y":0.75},{"s":"1.5x1.5","x":1927,"y":0.808},{"s":"1.5x1.5","x":1928,"y":0.808},{"s":"1.5x1.5","x":1929,"y":0.833},{"s":"1.5x1.5","x":1930,"y":0.834},{"s":"1.5x1.5","x":1933,"y":0.84},{"s":"1.5x1.5","x":1936,"y":0.905},{"s":"1.5x1.5","x":1940,"y":0.92},{"s":"1.5x1.5","x":1942,"y":0.928},{"s":"1.5x1.5","x":1944,"y":0.953},{"s":"1.5x1.5","x":1947,"y":0.945},{"s":"1.5x1.5","x":1952,"y":0.945},{"s":"1.5x1.5","x":1955,"y":0.938},{"s":"1.5x1.5","x":1960,"y":0.935},{"s":"1.5x1.5","x":1965,"y":0.943},{"s":"1.5x1.5","x":1970,"y":0.935},{"s":"1.5x1.5","x":1978,"y":0.917},{"s":"1.5x1.5","x":1983,"y":0.905},{"s":"1.5x1.5","x":1989,"y":0.894},{"s":"1.5x1.5","x":1993,"y":0.897},{"s":"1.5x1.5","x":1995,"y":0.89},{"s":"1.5x1.5","x":1998,"y":0.872},
{"s":"1x2","x":1923,"y":0.705},{"s":"1x2","x":1924,"y":0.72},{"s":"1x2","x":1927,"y":0.79},{"s":"1x2","x":1928,"y":0.79},{"s":"1x2","x":1929,"y":0.806},{"s":"1x2","x":1930,"y":0.806},{"s":"1x2","x":1933,"y":0.80},{"s":"1x2","x":1936,"y":0.865},{"s":"1x2","x":1940,"y":0.885},{"s":"1x2","x":1942,"y":0.895},{"s":"1x2","x":1944,"y":0.927},{"s":"1x2","x":1947,"y":0.92},{"s":"1x2","x":1950,"y":0.922},{"s":"1x2","x":1952,"y":0.92},{"s":"1x2","x":1955,"y":0.925},{"s":"1x2","x":1960,"y":0.943},{"s":"1x2","x":1965,"y":0.948},{"s":"1x2","x":1970,"y":0.955},{"s":"1x2","x":1978,"y":0.951},{"s":"1x2","x":1983,"y":0.943},{"s":"1x2","x":1989,"y":0.934},{"s":"1x2","x":1993,"y":0.938},{"s":"1x2","x":1995,"y":0.935},{"s":"1x2","x":1998,"y":0.92},
{"s":"2x2","x":1923,"y":0.695},{"s":"2x2","x":1924,"y":0.70},{"s":"2x2","x":1927,"y":0.785},{"s":"2x2","x":1928,"y":0.783},{"s":"2x2","x":1929,"y":0.80},{"s":"2x2","x":1930,"y":0.80},{"s":"2x2","x":1933,"y":0.80},{"s":"2x2","x":1936,"y":0.857},{"s":"2x2","x":1940,"y":0.862},{"s":"2x2","x":1942,"y":0.87},{"s":"2x2","x":1944,"y":0.91},{"s":"2x2","x":1947,"y":0.91},{"s":"2x2","x":1950,"y":0.908},{"s":"2x2","x":1952,"y":0.904},{"s":"2x2","x":1955,"y":0.908},{"s":"2x2","x":1960,"y":0.925},{"s":"2x2","x":1965,"y":0.928},{"s":"2x2","x":1970,"y":0.93},{"s":"2x2","x":1978,"y":0.927},{"s":"2x2","x":1983,"y":0.918},{"s":"2x2","x":1989,"y":0.908},{"s":"2x2","x":1993,"y":0.908},{"s":"2x2","x":1995,"y":0.905},{"s":"2x2","x":1998,"y":0.888}
],
"p7":[
{"s":"1x1","t":"hg","x":1923,"y":8.3},{"s":"1x1","t":"hg","x":1928,"y":10.6},{"s":"1x1","t":"hg","x":1933,"y":11.7},{"s":"1x1","t":"hg","x":1936,"y":13.0},{"s":"1x1","t":"hg","x":1940,"y":14.1},{"s":"1x1","t":"hg","x":1942,"y":15.0},{"s":"1x1","t":"hg","x":1944,"y":16.5},{"s":"1x1","t":"hg","x":1947,"y":17.6},{"s":"1x1","t":"hg","x":1952,"y":19.3},{"s":"1x1","t":"hg","x":1960,"y":21.8},{"s":"1x1","t":"hg","x":1965,"y":23.9},{"s":"1x1","t":"hg","x":1970,"y":26.0},{"s":"1x1","t":"hg","x":1978,"y":28.3},{"s":"1x1","t":"hg","x":1983,"y":29.3},{"s":"1x1","t":"hg","x":1990,"y":30.8},{"s":"1x1","t":"hg","x":1998,"y":32.9},
{"s":"1.5x1.5","t":"hg","x":1923,"y":8.9},{"s":"1.5x1.5","t":"hg","x":1928,"y":11.2},{"s":"1.5x1.5","t":"hg","x":1933,"y":12.0},{"s":"1.5x1.5","t":"hg","x":1936,"y":13.3},{"s":"1.5x1.5","t":"hg","x":1940,"y":14.4},{"s":"1.5x1.5","t":"hg","x":1942,"y":15.3},{"s":"1.5x1.5","t":"hg","x":1944,"y":16.8},{"s":"1.5x1.5","t":"hg","x":1947,"y":17.9},{"s":"1.5x1.5","t":"hg","x":1952,"y":19.6},{"s":"1.5x1.5","t":"hg","x":1960,"y":22.2},{"s":"1.5x1.5","t":"hg","x":1965,"y":24.2},{"s":"1.5x1.5","t":"hg","x":1970,"y":26.2},{"s":"1.5x1.5","t":"hg","x":1978,"y":28.2},{"s":"1.5x1.5","t":"hg","x":1983,"y":29.6},{"s":"1.5x1.5","t":"hg","x":1990,"y":31.3},{"s":"1.5x1.5","t":"hg","x":1998,"y":33.6},
{"s":"1x2","t":"hg","x":1923,"y":8.5},{"s":"1x2","t":"hg","x":1928,"y":10.8},{"s":"1x2","t":"hg","x":1933,"y":11.8},{"s":"1x2","t":"hg","x":1936,"y":13.1},{"s":"1x2","t":"hg","x":1940,"y":14.0},{"s":"1x2","t":"hg","x":1942,"y":15.0},{"s":"1x2","t":"hg","x":1944,"y":16.7},{"s":"1x2","t":"hg","x":1947,"y":17.6},{"s":"1x2","t":"hg","x":1952,"y":19.2},{"s":"1x2","t":"hg","x":1960,"y":21.4},{"s":"1x2","t":"hg","x":1965,"y":23.2},{"s":"1x2","t":"hg","x":1970,"y":24.8},{"s":"1x2","t":"hg","x":1978,"y":26.8},{"s":"1x2","t":"hg","x":1978,"y":27.5},{"s":"1x2","t":"hg","x":1983,"y":28.6},{"s":"1x2","t":"hg","x":1990,"y":30.1},{"s":"1x2","t":"hg","x":1998,"y":32.9},
{"s":"2x2","t":"hg","x":1923,"y":9.8},{"s":"2x2","t":"hg","x":1928,"y":12.0},{"s":"2x2","t":"hg","x":1933,"y":13.3},{"s":"2x2","t":"hg","x":1936,"y":14.5},{"s":"2x2","t":"hg","x":1940,"y":15.7},{"s":"2x2","t":"hg","x":1942,"y":16.5},{"s":"2x2","t":"hg","x":1944,"y":17.9},{"s":"2x2","t":"hg","x":1944,"y":18.5},{"s":"2x2","t":"hg","x":1947,"y":19.5},{"s":"2x2","t":"hg","x":1952,"y":21.1},{"s":"2x2","t":"hg","x":1960,"y":23.6},{"s":"2x2","t":"hg","x":1965,"y":24.8},{"s":"2x2","t":"hg","x":1970,"y":26.3},{"s":"2x2","t":"hg","x":1978,"y":28.2},{"s":"2x2","t":"hg","x":1978,"y":28.8},{"s":"2x2","t":"hg","x":1983,"y":30.0},{"s":"2x2","t":"hg","x":1990,"y":31.7},{"s":"2x2","t":"hg","x":1998,"y":34.0},
{"s":"1x1","t":"h50","x":1923,"y":11.1},{"s":"1x1","t":"h50","x":1928,"y":13.3},{"s":"1x1","t":"h50","x":1933,"y":15.0},{"s":"1x1","t":"h50","x":1940,"y":17.5},{"s":"1x1","t":"h50","x":1944,"y":20.2},{"s":"1x1","t":"h50","x":1952,"y":22.7},{"s":"1x1","t":"h50","x":1960,"y":25.4},{"s":"1x1","t":"h50","x":1970,"y":28.4},{"s":"1x1","t":"h50","x":1978,"y":30.8},{"s":"1x1","t":"h50","x":1990,"y":33.5},{"s":"1x1","t":"h50","x":1998,"y":35.5},
{"s":"1.5x1.5","t":"h50","x":1923,"y":11.4},{"s":"1.5x1.5","t":"h50","x":1928,"y":13.6},{"s":"1.5x1.5","t":"h50","x":1933,"y":15.2},{"s":"1.5x1.5","t":"h50","x":1940,"y":17.6},{"s":"1.5x1.5","t":"h50","x":1944,"y":20.3},{"s":"1.5x1.5","t":"h50","x":1952,"y":22.8},{"s":"1.5x1.5","t":"h50","x":1960,"y":25.5},{"s":"1.5x1.5","t":"h50","x":1970,"y":28.5},{"s":"1.5x1.5","t":"h50","x":1978,"y":30.9},{"s":"1.5x1.5","t":"h50","x":1990,"y":33.6},{"s":"1.5x1.5","t":"h50","x":1998,"y":35.6},
{"s":"1x2","t":"h50","x":1923,"y":10.6},{"s":"1x2","t":"h50","x":1928,"y":12.5},{"s":"1x2","t":"h50","x":1933,"y":14.3},{"s":"1x2","t":"h50","x":1940,"y":17.1},{"s":"1x2","t":"h50","x":1944,"y":19.5},{"s":"1x2","t":"h50","x":1952,"y":22.0},{"s":"1x2","t":"h50","x":1960,"y":24.9},{"s":"1x2","t":"h50","x":1970,"y":27.9},{"s":"1x2","t":"h50","x":1978,"y":30.3},{"s":"1x2","t":"h50","x":1990,"y":32.8},{"s":"1x2","t":"h50","x":1998,"y":34.8},
{"s":"2x2","t":"h50","x":1923,"y":12.5},{"s":"2x2","t":"h50","x":1928,"y":14.4},{"s":"2x2","t":"h50","x":1933,"y":16.3},{"s":"2x2","t":"h50","x":1936,"y":18.4},{"s":"2x2","t":"h50","x":1940,"y":19.5},{"s":"2x2","t":"h50","x":1944,"y":21.7},{"s":"2x2","t":"h50","x":1952,"y":23.6},{"s":"2x2","t":"h50","x":1960,"y":26.0},{"s":"2x2","t":"h50","x":1970,"y":29.3},{"s":"2x2","t":"h50","x":1978,"y":31.4},{"s":"2x2","t":"h50","x":1990,"y":34.1},{"s":"2x2","t":"h50","x":1998,"y":36.4}
],
"p8":[
{"s":"1x1","t":"Total","x":1923,"y":33.0},{"s":"1x1","t":"Total","x":1925,"y":40.5},{"s":"1x1","t":"Total","x":1927,"y":43.0},{"s":"1x1","t":"Total","x":1930,"y":47.4},{"s":"1x1","t":"Total","x":1935,"y":53.9},{"s":"1x1","t":"Total","x":1940,"y":61.5},{"s":"1x1","t":"Total","x":1945,"y":68.0},{"s":"1x1","t":"Total","x":1952,"y":74.6},{"s":"1x1","t":"Total","x":1960,"y":83.3},{"s":"1x1","t":"Total","x":1970,"y":90.9},{"s":"1x1","t":"Total","x":1978,"y":96.3},{"s":"1x1","t":"Total","x":1990,"y":104.0},{"s":"1x1","t":"Total","x":1996,"y":110.9},{"s":"1x1","t":"Total","x":1998,"y":112.6},
{"s":"1.5x1.5","t":"Total","x":1923,"y":24.6},{"s":"1.5x1.5","t":"Total","x":1925,"y":27.5},{"s":"1.5x1.5","t":"Total","x":1930,"y":34.0},{"s":"1.5x1.5","t":"Total","x":1935,"y":43.0},{"s":"1.5x1.5","t":"Total","x":1940,"y":49.0},{"s":"1.5x1.5","t":"Total","x":1944,"y":53.5},{"s":"1.5x1.5","t":"Total","x":1947,"y":56.0},{"s":"1.5x1.5","t":"Total","x":1952,"y":60.5},{"s":"1.5x1.5","t":"Total","x":1960,"y":67.4},{"s":"1.5x1.5","t":"Total","x":1970,"y":76.0},{"s":"1.5x1.5","t":"Total","x":1978,"y":82.5},{"s":"1.5x1.5","t":"Total","x":1990,"y":89.0},{"s":"1.5x1.5","t":"Total","x":1995,"y":93.5},{"s":"1.5x1.5","t":"Total","x":1998,"y":95.7},
{"s":"1x2","t":"Total","x":1923,"y":22.5},{"s":"1x2","t":"Total","x":1925,"y":25.0},{"s":"1x2","t":"Total","x":1930,"y":31.5},{"s":"1x2","t":"Total","x":1935,"y":40.0},{"s":"1x2","t":"Total","x":1940,"y":46.5},{"s":"1x2","t":"Total","x":1944,"y":51.0},{"s":"1x2","t":"Total","x":1952,"y":58.5},{"s":"1x2","t":"Total","x":1960,"y":67.0},{"s":"1x2","t":"Total","x":1970,"y":77.5},{"s":"1x2","t":"Total","x":1978,"y":84.0},{"s":"1x2","t":"Total","x":1990,"y":92.5},{"s":"1x2","t":"Total","x":1995,"y":98.5},{"s":"1x2","t":"Total","x":1998,"y":101.1},
{"s":"2x2","t":"Total","x":1923,"y":23.5},{"s":"2x2","t":"Total","x":1925,"y":26.0},{"s":"2x2","t":"Total","x":1930,"y":31.0},{"s":"2x2","t":"Total","x":1935,"y":39.5},{"s":"2x2","t":"Total","x":1940,"y":46.0},{"s":"2x2","t":"Total","x":1944,"y":50.5},{"s":"2x2","t":"Total","x":1952,"y":58.0},{"s":"2x2","t":"Total","x":1960,"y":66.5},{"s":"2x2","t":"Total","x":1970,"y":76.0},{"s":"2x2","t":"Total","x":1978,"y":83.0},{"s":"2x2","t":"Total","x":1990,"y":90.0},{"s":"2x2","t":"Total","x":1995,"y":96.0},{"s":"2x2","t":"Total","x":1998,"y":97.8},
{"s":"1x1","t":"Stock","x":1923,"y":33.0},{"s":"1x1","t":"Stock","x":1923,"y":25.0},{"s":"1x1","t":"Stock","x":1927,"y":33.5},{"s":"1x1","t":"Stock","x":1927,"y":28.5},{"s":"1x1","t":"Stock","x":1928,"y":31.5},{"s":"1x1","t":"Stock","x":1928,"y":29.0},{"s":"1x1","t":"Stock","x":1930,"y":31.0},{"s":"1x1","t":"Stock","x":1930,"y":29.5},{"s":"1x1","t":"Stock","x":1936,"y":36.5},{"s":"1x1","t":"Stock","x":1940,"y":41.5},{"s":"1x1","t":"Stock","x":1940,"y":36.5},{"s":"1x1","t":"Stock","x":1942,"y":38.5},{"s":"1x1","t":"Stock","x":1942,"y":36.5},{"s":"1x1","t":"Stock","x":1944,"y":41.0},{"s":"1x1","t":"Stock","x":1944,"y":36.0},{"s":"1x1","t":"Stock","x":1947,"y":38.3},{"s":"1x1","t":"Stock","x":1947,"y":35.0},{"s":"1x1","t":"Stock","x":1952,"y":40.4},{"s":"1x1","t":"Stock","x":1952,"y":36.1},{"s":"1x1","t":"Stock","x":1955,"y":41.0},{"s":"1x1","t":"Stock","x":1955,"y":37.2},{"s":"1x1","t":"Stock","x":1960,"y":43.7},{"s":"1x1","t":"Stock","x":1960,"y":39.4},{"s":"1x1","t":"Stock","x":1965,"y":43.7},{"s":"1x1","t":"Stock","x":1965,"y":40.4},{"s":"1x1","t":"Stock","x":1970,"y":44.8},{"s":"1x1","t":"Stock","x":1970,"y":41.5},{"s":"1x1","t":"Stock","x":1973,"y":44.8},{"s":"1x1","t":"Stock","x":1973,"y":42.2},{"s":"1x1","t":"Stock","x":1978,"y":46.9},{"s":"1x1","t":"Stock","x":1978,"y":41.5},{"s":"1x1","t":"Stock","x":1983,"y":45.0},{"s":"1x1","t":"Stock","x":1990,"y":49.5},{"s":"1x1","t":"Stock","x":1995,"y":54.5},{"s":"1x1","t":"Stock","x":1995,"y":49.6},{"s":"1x1","t":"Stock","x":1998,"y":50.7},
{"s":"1.5x1.5","t":"Stock","x":1923,"y":24.5},{"s":"1.5x1.5","t":"Stock","x":1927,"y":31.5},{"s":"1.5x1.5","t":"Stock","x":1927,"y":29.0},{"s":"1.5x1.5","t":"Stock","x":1930,"y":31.0},{"s":"1.5x1.5","t":"Stock","x":1936,"y":38.0},{"s":"1.5x1.5","t":"Stock","x":1940,"y":42.0},{"s":"1.5x1.5","t":"Stock","x":1940,"y":37.2},{"s":"1.5x1.5","t":"Stock","x":1942,"y":40.2},{"s":"1.5x1.5","t":"Stock","x":1942,"y":38.0},{"s":"1.5x1.5","t":"Stock","x":1944,"y":39.5},{"s":"1.5x1.5","t":"Stock","x":1944,"y":35.5},{"s":"1.5x1.5","t":"Stock","x":1947,"y":39.3},{"s":"1.5x1.5","t":"Stock","x":1947,"y":36.0},{"s":"1.5x1.5","t":"Stock","x":1952,"y":41.0},{"s":"1.5x1.5","t":"Stock","x":1952,"y":37.2},{"s":"1.5x1.5","t":"Stock","x":1955,"y":39.5},{"s":"1.5x1.5","t":"Stock","x":1955,"y":38.0},{"s":"1.5x1.5","t":"Stock","x":1960,"y":42.2},{"s":"1.5x1.5","t":"Stock","x":1960,"y":39.4},{"s":"1.5x1.5","t":"Stock","x":1965,"y":42.0},{"s":"1.5x1.5","t":"Stock","x":1965,"y":40.0},{"s":"1.5x1.5","t":"Stock","x":1970,"y":42.6},{"s":"1.5x1.5","t":"Stock","x":1970,"y":39.4},{"s":"1.5x1.5","t":"Stock","x":1973,"y":42.6},{"s":"1.5x1.5","t":"Stock","x":1973,"y":38.7},{"s":"1.5x1.5","t":"Stock","x":1978,"y":45.0},{"s":"1.5x1.5","t":"Stock","x":1978,"y":41.0},{"s":"1.5x1.5","t":"Stock","x":1983,"y":44.0},{"s":"1.5x1.5","t":"Stock","x":1990,"y":49.0},{"s":"1.5x1.5","t":"Stock","x":1995,"y":52.0},{"s":"1.5x1.5","t":"Stock","x":1998,"y":52.8},
{"s":"1x2","t":"Stock","x":1923,"y":22.0},{"s":"1x2","t":"Stock","x":1927,"y":29.5},{"s":"1x2","t":"Stock","x":1927,"y":27.0},{"s":"1x2","t":"Stock","x":1930,"y":29.0},{"s":"1x2","t":"Stock","x":1930,"y":27.5},{"s":"1x2","t":"Stock","x":1936,"y":34.0},{"s":"1x2","t":"Stock","x":1940,"y":39.3},{"s":"1x2","t":"Stock","x":1940,"y":35.0},{"s":"1x2","t":"Stock","x":1942,"y":37.0},{"s":"1x2","t":"Stock","x":1942,"y":35.5},{"s":"1x2","t":"Stock","x":1944,"y":38.3},{"s":"1x2","t":"Stock","x":1944,"y":33.9},{"s":"1x2","t":"Stock","x":1947,"y":36.5},{"s":"1x2","t":"Stock","x":1947,"y":34.0},{"s":"1x2","t":"Stock","x":1952,"y":38.3},{"s":"1x2","t":"Stock","x":1952,"y":35.5},{"s":"1x2","t":"Stock","x":1955,"y":38.5},{"s":"1x2","t":"Stock","x":1955,"y":37.0},{"s":"1x2","t":"Stock","x":1960,"y":43.7},{"s":"1x2","t":"Stock","x":1960,"y":40.4},{"s":"1x2","t":"Stock","x":1965,"y":44.0},{"s":"1x2","t":"Stock","x":1965,"y":42.0},{"s":"1x2","t":"Stock","x":1970,"y":46.0},{"s":"1x2","t":"Stock","x":1970,"y":42.6},{"s":"1x2","t":"Stock","x":1973,"y":46.0},{"s":"1x2","t":"Stock","x":1973,"y":44.0},{"s":"1x2","t":"Stock","x":1978,"y":50.2},{"s":"1x2","t":"Stock","x":1978,"y":44.8},{"s":"1x2","t":"Stock","x":1983,"y":48.5},{"s":"1x2","t":"Stock","x":1990,"y":53.0},{"s":"1x2","t":"Stock","x":1995,"y":57.5},{"s":"1x2","t":"Stock","x":1998,"y":58.7},
{"s":"2x2","t":"Stock","x":1923,"y":23.0},{"s":"2x2","t":"Stock","x":1927,"y":31.0},{"s":"2x2","t":"Stock","x":1927,"y":28.5},{"s":"2x2","t":"Stock","x":1930,"y":29.5},{"s":"2x2","t":"Stock","x":1930,"y":28.0},{"s":"2x2","t":"Stock","x":1936,"y":35.0},{"s":"2x2","t":"Stock","x":1940,"y":40.0},{"s":"2x2","t":"Stock","x":1940,"y":35.0},{"s":"2x2","t":"Stock","x":1942,"y":38.5},{"s":"2x2","t":"Stock","x":1942,"y":36.0},{"s":"2x2","t":"Stock","x":1944,"y":41.0},{"s":"2x2","t":"Stock","x":1944,"y":35.0},{"s":"2x2","t":"Stock","x":1947,"y":38.5},{"s":"2x2","t":"Stock","x":1947,"y":34.5},{"s":"2x2","t":"Stock","x":1952,"y":39.5},{"s":"2x2","t":"Stock","x":1952,"y":36.5},{"s":"2x2","t":"Stock","x":1955,"y":40.0},{"s":"2x2","t":"Stock","x":1955,"y":38.5},{"s":"2x2","t":"Stock","x":1960,"y":44.0},{"s":"2x2","t":"Stock","x":1960,"y":39.5},{"s":"2x2","t":"Stock","x":1965,"y":44.0},{"s":"2x2","t":"Stock","x":1965,"y":41.5},{"s":"2x2","t":"Stock","x":1970,"y":47.4},{"s":"2x2","t":"Stock","x":1970,"y":43.5},{"s":"2x2","t":"Stock","x":1973,"y":47.0},{"s":"2x2","t":"Stock","x":1973,"y":45.5},{"s":"2x2","t":"Stock","x":1978,"y":52.5},{"s":"2x2","t":"Stock","x":1978,"y":47.4},{"s":"2x2","t":"Stock","x":1983,"y":51.0},{"s":"2x2","t":"Stock","x":1990,"y":56.0},{"s":"2x2","t":"Stock","x":1995,"y":59.5},{"s":"2x2","t":"Stock","x":1995,"y":58.5},{"s":"2x2","t":"Stock","x":1998,"y":61.0},{"s":"2x2","t":"Stock","x":1998,"y":0.0},
{"s":"1x1","t":"Removal","x":1923,"y":8.3},{"s":"1x1","t":"Removal","x":1928,"y":13.5},{"s":"1x1","t":"Removal","x":1930,"y":15.5},{"s":"1x1","t":"Removal","x":1933,"y":17.5},{"s":"1x1","t":"Removal","x":1936,"y":18.5},{"s":"1x1","t":"Removal","x":1940,"y":23.5},{"s":"1x1","t":"Removal","x":1942,"y":26.0},{"s":"1x1","t":"Removal","x":1944,"y":30.5},{"s":"1x1","t":"Removal","x":1947,"y":32.5},{"s":"1x1","t":"Removal","x":1952,"y":36.5},{"s":"1x1","t":"Removal","x":1955,"y":38.5},{"s":"1x1","t":"Removal","x":1960,"y":43.5},{"s":"1x1","t":"Removal","x":1965,"y":46.3},{"s":"1x1","t":"Removal","x":1970,"y":49.5},{"s":"1x1","t":"Removal","x":1973,"y":52.0},{"s":"1x1","t":"Removal","x":1978,"y":55.0},{"s":"1x1","t":"Removal","x":1995,"y":61.5},{"s":"1x1","t":"Removal","x":1998,"y":61.5},{"s":"1x1","t":"Removal","x":1998,"y":112.6},
{"s":"1.5x1.5","t":"Removal","x":1923,"y":1.5},{"s":"1.5x1.5","t":"Removal","x":1928,"y":5.5},{"s":"1.5x1.5","t":"Removal","x":1930,"y":6.0},{"s":"1.5x1.5","t":"Removal","x":1936,"y":7.0},{"s":"1.5x1.5","t":"Removal","x":1940,"y":12.0},{"s":"1.5x1.5","t":"Removal","x":1942,"y":14.0},{"s":"1.5x1.5","t":"Removal","x":1944,"y":17.0},{"s":"1.5x1.5","t":"Removal","x":1947,"y":19.5},{"s":"1.5x1.5","t":"Removal","x":1952,"y":22.5},{"s":"1.5x1.5","t":"Removal","x":1955,"y":24.5},{"s":"1.5x1.5","t":"Removal","x":1960,"y":27.5},{"s":"1.5x1.5","t":"Removal","x":1965,"y":29.5},{"s":"1.5x1.5","t":"Removal","x":1970,"y":31.0},{"s":"1.5x1.5","t":"Removal","x":1973,"y":37.0},{"s":"1.5x1.5","t":"Removal","x":1978,"y":43.0},{"s":"1.5x1.5","t":"Removal","x":1998,"y":43.0},
{"s":"1x2","t":"Removal","x":1923,"y":3.5},{"s":"1x2","t":"Removal","x":1928,"y":6.0},{"s":"1x2","t":"Removal","x":1936,"y":7.0},{"s":"1x2","t":"Removal","x":1940,"y":12.6},{"s":"1x2","t":"Removal","x":1942,"y":15.0},{"s":"1x2","t":"Removal","x":1944,"y":19.5},{"s":"1x2","t":"Removal","x":1947,"y":20.0},{"s":"1x2","t":"Removal","x":1952,"y":23.0},{"s":"1x2","t":"Removal","x":1955,"y":25.0},{"s":"1x2","t":"Removal","x":1960,"y":28.5},{"s":"1x2","t":"Removal","x":1965,"y":30.5},{"s":"1x2","t":"Removal","x":1970,"y":32.5},{"s":"1x2","t":"Removal","x":1973,"y":35.0},{"s":"1x2","t":"Removal","x":1978,"y":41.0},{"s":"1x2","t":"Removal","x":1998,"y":41.0},
{"s":"2x2","t":"Removal","x":1923,"y":0.0},{"s":"2x2","t":"Removal","x":1924,"y":2.0},{"s":"2x2","t":"Removal","x":1928,"y":5.0},{"s":"2x2","t":"Removal","x":1933,"y":6.0},{"s":"2x2","t":"Removal","x":1940,"y":12.0},{"s":"2x2","t":"Removal","x":1942,"y":14.0},{"s":"2x2","t":"Removal","x":1944,"y":17.0},{"s":"2x2","t":"Removal","x":1947,"y":20.0},{"s":"2x2","t":"Removal","x":1952,"y":21.0},{"s":"2x2","t":"Removal","x":1955,"y":24.0},{"s":"2x2","t":"Removal","x":1960,"y":27.5},{"s":"2x2","t":"Removal","x":1965,"y":28.5},{"s":"2x2","t":"Removal","x":1970,"y":30.0},{"s":"2x2","t":"Removal","x":1978,"y":34.5},{"s":"2x2","t":"Removal","x":1990,"y":36.5},{"s":"2x2","t":"Removal","x":1995,"y":37.0},{"s":"2x2","t":"Removal","x":1998,"y":37.0},{"s":"2x2","t":"Removal","x":1998,"y":97.8}
]
},
"concat":[
{"width":180,"height":187,"data":{"name":"p1"},
 "mark":{"type":"line","interpolate":"step-after","clip":true,"strokeWidth":0.8},
 "encoding":{
  "x":{"field":"x","type":"quantitative","scale":{"domain":[1919.8,2000.3],"nice":false,"zero":false},"axis":{"values":[1920,1940,1960,1980,2000],"format":"d","title":"Year"}},
  "y":{"field":"y","type":"quantitative","scale":{"type":"log","domain":[357,8690],"nice":false},"axis":{"values":[500,1000,2000,5000],"format":"d","title":"Stemnumber [n/ha]","labelPadding":3,"titlePadding":7}},
  "color":{"field":"s","type":"nominal","scale":{"domain":["1x1","1.5x1.5","1x2","2x2"],"range":["#222222","#ff2a2a","#5ccc2c","#2a2aff"]},"legend":{"title":null,"orient":"top-right"}}
 }},
{"width":180,"height":187,"data":{"name":"p2"},
 "mark":{"type":"line","clip":true,"strokeWidth":0.8},
 "encoding":{
  "x":{"field":"x","type":"quantitative","scale":{"domain":[1919.8,2000.3],"nice":false,"zero":false},"axis":{"values":[1920,1940,1960,1980,2000],"format":"d","title":"Year"}},
  "y":{"field":"y","type":"quantitative","scale":{"domain":[68.5,118.3],"nice":false,"zero":false},"axis":{"values":[70,80,90,100,110],"title":"Height / Diameter [1]","labelPadding":1.5,"titlePadding":9}},
  "color":{"field":"s","type":"nominal","scale":{"domain":["1x1","1.5x1.5","1x2","2x2"],"range":["#222222","#ff2a2a","#5ccc2c","#2a2aff"]},"legend":{"title":null,"orient":"top-right"}},
  "strokeDash":{"field":"t","type":"nominal","scale":{"domain":["hg/dg","h50/d50"],"range":[[1,0],[3,3]]},"legend":{"title":null,"orient":"top-right","symbolStrokeColor":"#333"}}
 }},
{"width":180,"height":187,"data":{"name":"p3"},
 "mark":{"type":"line","interpolate":"step-after","clip":true,"strokeWidth":0.8},
 "encoding":{
  "x":{"field":"x","type":"quantitative","scale":{"domain":[1920,2001],"nice":false,"zero":false},"axis":{"values":[1920,1940,1960,1980,2000],"format":"d","title":"Year"}},
  "y":{"field":"y","type":"quantitative","scale":{"domain":[-0.2,4.67],"nice":false,"zero":false},"axis":{"values":[0,1,2,3,4],"title":"Basal area increment [m²/ha/year]","labelPadding":5,"titlePadding":6}},
  "color":{"field":"s","type":"nominal","scale":{"domain":["1x1","1.5x1.5","1x2","2x2"],"range":["#222222","#ff2a2a","#5ccc2c","#2a2aff"]},"legend":{"title":null,"orient":"top-right"}}
 }},
{"width":180,"height":187,"data":{"name":"p4"},
 "mark":{"type":"line","clip":true,"strokeWidth":0.8},
 "encoding":{
  "x":{"field":"x","type":"quantitative","scale":{"domain":[1919.8,2000.3],"nice":false,"zero":false},"axis":{"values":[1920,1940,1960,1980,2000],"format":"d","title":"Year"}},
  "y":{"field":"y","type":"quantitative","scale":{"domain":[6.34,51.95],"nice":false,"zero":false},"axis":{"values":[10,20,30,40,50],"title":"Diameter [cm]","labelPadding":4,"titlePadding":8}},
  "color":{"field":"s","type":"nominal","scale":{"domain":["1x1","1.5x1.5","1x2","2x2"],"range":["#222222","#ff2a2a","#5ccc2c","#2a2aff"]},"legend":{"title":null,"orient":"bottom-right"}},
  "strokeDash":{"field":"t","type":"nominal","scale":{"domain":["dg","d50"],"range":[[1,0],[3,3]]},"legend":{"title":null,"orient":"bottom-right","symbolStrokeColor":"#333"}}
 }},
{"width":180,"height":187,"data":{"name":"p5"},
 "mark":{"type":"line","clip":true,"strokeWidth":0.8},
 "encoding":{
  "x":{"field":"x","type":"quantitative","scale":{"domain":[-1.4,61.5],"nice":false,"zero":false},"axis":{"values":[0,10,20,30,40,50,60],"title":"dbh [cm]"}},
  "y":{"field":"y","type":"quantitative","scale":{"domain":[-3.4,117.2],"nice":false,"zero":false},"axis":{"values":[0,20,40,60,80,100],"title":"Cumulative removed basal area [m²/ha]","labelPadding":2,"titlePadding":8}},
  "color":{"field":"s","type":"nominal","scale":{"domain":["1x1","1.5x1.5","1x2","2x2"],"range":["#222222","#ff2a2a","#5ccc2c","#2a2aff"]},"legend":{"title":null,"orient":"top-right"}}
 }},
{"width":180,"height":187,"data":{"name":"p6"},
 "mark":{"type":"line","clip":true,"strokeWidth":0.8},
 "encoding":{
  "x":{"field":"x","type":"quantitative","scale":{"domain":[1920,2001],"nice":false,"zero":false},"axis":{"values":[1920,1940,1960,1980,2000],"format":"d","title":"Year"}},
  "y":{"field":"y","type":"quantitative","scale":{"domain":[0.677,1.195],"nice":false,"zero":false},"axis":{"values":[0.7,0.8,0.9,1.0,1.1],"format":".1f","title":"Basal area increment [m²/ha/year]","labelPadding":4,"titlePadding":5.5}},
  "color":{"field":"s","type":"nominal","scale":{"domain":["1x1","1.5x1.5","1x2","2x2"],"range":["#222222","#ff2a2a","#5ccc2c","#2a2aff"]},"legend":{"title":null,"orient":"bottom-right"}}
 }},
{"width":180,"height":187,"data":{"name":"p7"},
 "mark":{"type":"line","clip":true,"strokeWidth":0.8},
 "encoding":{
  "x":{"field":"x","type":"quantitative","scale":{"domain":[1919.8,2000.3],"nice":false,"zero":false},"axis":{"values":[1920,1940,1960,1980,2000],"format":"d","title":"Year"}},
  "y":{"field":"y","type":"quantitative","scale":{"domain":[7.1,37.5],"nice":false,"zero":false},"axis":{"values":[10,15,20,25,30,35],"title":"Height [m]","labelPadding":4,"titlePadding":8}},
  "color":{"field":"s","type":"nominal","scale":{"domain":["1x1","1.5x1.5","1x2","2x2"],"range":["#222222","#ff2a2a","#5ccc2c","#2a2aff"]},"legend":{"title":null,"orient":"bottom-right"}},
  "strokeDash":{"field":"t","type":"nominal","scale":{"domain":["hg","h50"],"range":[[1,0],[3,3]]},"legend":{"title":null,"orient":"bottom-right","symbolStrokeColor":"#333"}}
 }},
{"width":180,"height":187,"data":{"name":"p8"},
 "encoding":{
  "x":{"field":"x","type":"quantitative","scale":{"domain":[1919.8,2000.3],"nice":false,"zero":false},"axis":{"values":[1920,1940,1960,1980,2000],"format":"d","title":"Year"}},
  "y":{"field":"y","type":"quantitative","scale":{"domain":[-5.4,117.4],"nice":false,"zero":false},"axis":{"values":[0,20,40,60,80,100],"title":"Basal area [m²/ha]","labelPadding":2,"titlePadding":8}},
  "color":{"field":"s","type":"nominal","scale":{"domain":["1x1","1.5x1.5","1x2","2x2"],"range":["#111111","#ee1111","#44bb22","#1111ee"]},"legend":{"title":null,"orient":"top-left","symbolStrokeWidth":1}},
  "strokeDash":{"field":"t","type":"ordinal","scale":{"type":"ordinal","domain":["Stock","Total","Removal"],"range":[[1,0],[1,0],[3,3]]},"legend":{"title":null,"orient":"top-left","symbolStrokeColor":"#333"}},
  "strokeWidth":{"field":"t","type":"ordinal","scale":{"type":"ordinal","domain":["Stock","Total","Removal"],"range":[2,0.8,0.8]},"legend":{"title":null,"orient":"top-left","symbolStrokeColor":"#333"}}
 },
 "layer":[
  {"transform":[{"filter":"datum.t !== 'Removal'"}],"mark":{"type":"line","clip":true}},
  {"transform":[{"filter":"datum.t === 'Removal'"}],"mark":{"type":"line","interpolate":"step-after","clip":true}}
 ]}
]
}
